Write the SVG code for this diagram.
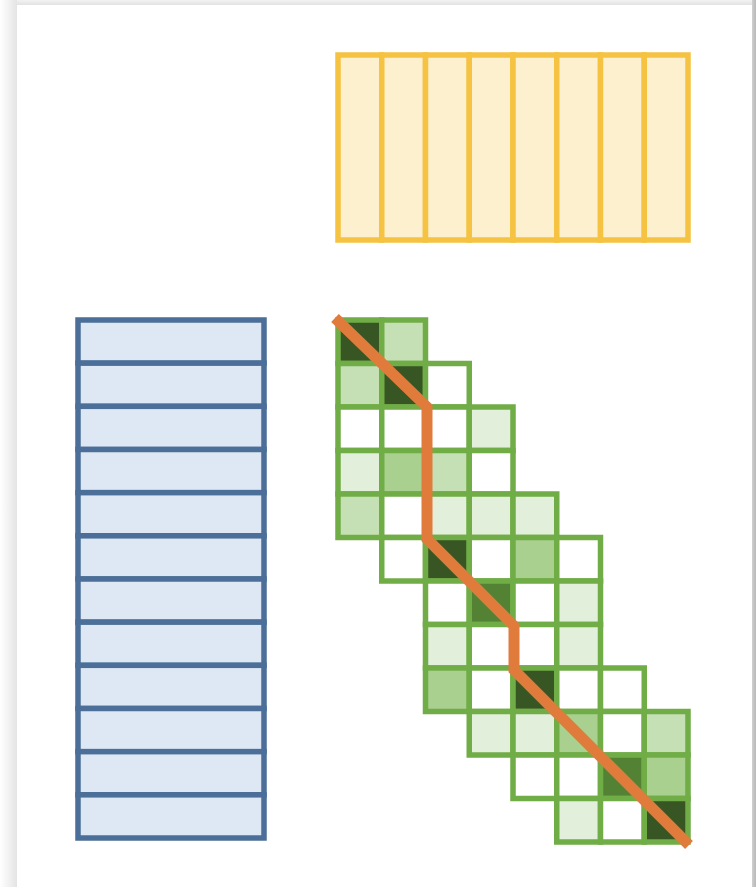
<svg xmlns="http://www.w3.org/2000/svg" width="756" height="887" viewBox="0 0 756 887">
<defs>
<linearGradient id="gl" x1="0" y1="0" x2="1" y2="0"><stop offset="0" stop-color="#ffffff"/><stop offset="1" stop-color="#e4e4e4"/></linearGradient>
<linearGradient id="gt" x1="0" y1="0" x2="0" y2="1"><stop offset="0" stop-color="#f2f2f2"/><stop offset="1" stop-color="#e2e2e2"/></linearGradient>
<linearGradient id="gr" x1="0" y1="0" x2="1" y2="0"><stop offset="0" stop-color="#d0d0d0"/><stop offset="1" stop-color="#b8b8b8"/></linearGradient>
<style>
.y{fill:#fdf0cf;stroke:#f5c242;stroke-width:5.5}
.b{fill:#dee8f4;stroke:#4b6f98;stroke-width:5.5}
.g{stroke:#70ad47;stroke-width:5.5}
.D{fill:#375623}.DM{fill:#548235}.M{fill:#a9d08e}.LM{fill:#c5e0b4}.VL{fill:#e2efda}.W{fill:#ffffff}
</style>
</defs>
<rect x="0" y="0" width="756" height="887" fill="#f4f4f4"/>
<rect x="0" y="0" width="17" height="887" fill="url(#gl)"/>
<rect x="17" y="0" width="735" height="5" fill="url(#gt)"/>
<rect x="752" y="0" width="4" height="887" fill="url(#gr)"/>
<rect x="17" y="5" width="735" height="882" fill="#ffffff"/>

<g id="yellow">
<rect class="y" x="338" y="55" width="43.75" height="185"/>
<rect class="y" x="381.75" y="55" width="43.75" height="185"/>
<rect class="y" x="425.5" y="55" width="43.75" height="185"/>
<rect class="y" x="469.25" y="55" width="43.75" height="185"/>
<rect class="y" x="513" y="55" width="43.75" height="185"/>
<rect class="y" x="556.75" y="55" width="43.75" height="185"/>
<rect class="y" x="600.5" y="55" width="43.75" height="185"/>
<rect class="y" x="644.25" y="55" width="43.75" height="185"/>
</g>

<g id="blue">
<rect class="b" x="78" y="320" width="186" height="43.17"/>
<rect class="b" x="78" y="363.17" width="186" height="43.17"/>
<rect class="b" x="78" y="406.33" width="186" height="43.17"/>
<rect class="b" x="78" y="449.5" width="186" height="43.17"/>
<rect class="b" x="78" y="492.67" width="186" height="43.17"/>
<rect class="b" x="78" y="535.83" width="186" height="43.17"/>
<rect class="b" x="78" y="579" width="186" height="43.17"/>
<rect class="b" x="78" y="622.17" width="186" height="43.17"/>
<rect class="b" x="78" y="665.33" width="186" height="43.17"/>
<rect class="b" x="78" y="708.5" width="186" height="43.17"/>
<rect class="b" x="78" y="751.67" width="186" height="43.17"/>
<rect class="b" x="78" y="794.83" width="186" height="43.17"/>
</g>

<g id="green">
<g class="g">
<rect class="D" x="338" y="320" width="43.75" height="43.5"/>
<rect class="LM" x="381.75" y="320" width="43.75" height="43.5"/>
<rect class="LM" x="338" y="363.5" width="43.75" height="43.5"/>
<rect class="D" x="381.75" y="363.5" width="43.75" height="43.5"/>
<rect class="W" x="425.5" y="363.5" width="43.75" height="43.5"/>
<rect class="W" x="338" y="407" width="43.75" height="43.5"/>
<rect class="W" x="381.75" y="407" width="43.75" height="43.5"/>
<rect class="W" x="425.5" y="407" width="43.75" height="43.5"/>
<rect class="VL" x="469.25" y="407" width="43.75" height="43.5"/>
<rect class="VL" x="338" y="450.5" width="43.75" height="43.5"/>
<rect class="M" x="381.75" y="450.5" width="43.75" height="43.5"/>
<rect class="LM" x="425.5" y="450.5" width="43.75" height="43.5"/>
<rect class="W" x="469.25" y="450.5" width="43.75" height="43.5"/>
<rect class="LM" x="338" y="494" width="43.75" height="43.5"/>
<rect class="W" x="381.75" y="494" width="43.75" height="43.5"/>
<rect class="VL" x="425.5" y="494" width="43.75" height="43.5"/>
<rect class="VL" x="469.25" y="494" width="43.75" height="43.5"/>
<rect class="VL" x="513" y="494" width="43.75" height="43.5"/>
<rect class="W" x="381.75" y="537.5" width="43.75" height="43.5"/>
<rect class="D" x="425.5" y="537.5" width="43.75" height="43.5"/>
<rect class="W" x="469.25" y="537.5" width="43.75" height="43.5"/>
<rect class="M" x="513" y="537.5" width="43.75" height="43.5"/>
<rect class="W" x="556.75" y="537.5" width="43.75" height="43.5"/>
<rect class="W" x="425.5" y="581" width="43.75" height="43.5"/>
<rect class="DM" x="469.25" y="581" width="43.75" height="43.5"/>
<rect class="W" x="513" y="581" width="43.75" height="43.5"/>
<rect class="VL" x="556.75" y="581" width="43.75" height="43.5"/>
<rect class="VL" x="425.5" y="624.5" width="43.75" height="43.5"/>
<rect class="W" x="469.25" y="624.5" width="43.75" height="43.5"/>
<rect class="W" x="513" y="624.5" width="43.75" height="43.5"/>
<rect class="VL" x="556.75" y="624.5" width="43.75" height="43.5"/>
<rect class="M" x="425.5" y="668" width="43.75" height="43.5"/>
<rect class="W" x="469.25" y="668" width="43.75" height="43.5"/>
<rect class="D" x="513" y="668" width="43.75" height="43.5"/>
<rect class="W" x="556.75" y="668" width="43.75" height="43.5"/>
<rect class="W" x="600.5" y="668" width="43.75" height="43.5"/>
<rect class="VL" x="469.25" y="711.5" width="43.75" height="43.5"/>
<rect class="VL" x="513" y="711.5" width="43.75" height="43.5"/>
<rect class="M" x="556.75" y="711.5" width="43.75" height="43.5"/>
<rect class="W" x="600.5" y="711.5" width="43.75" height="43.5"/>
<rect class="LM" x="644.25" y="711.5" width="43.75" height="43.5"/>
<rect class="W" x="513" y="755" width="43.75" height="43.5"/>
<rect class="W" x="556.75" y="755" width="43.75" height="43.5"/>
<rect class="DM" x="600.5" y="755" width="43.75" height="43.5"/>
<rect class="M" x="644.25" y="755" width="43.75" height="43.5"/>
<rect class="VL" x="556.75" y="798.5" width="43.75" height="43.5"/>
<rect class="W" x="600.5" y="798.5" width="43.75" height="43.5"/>
<rect class="D" x="644.25" y="798.5" width="43.75" height="43.5"/>
</g>
</g>

<g id="connectors">
<polyline points="335,318 427,407 427,539 514,626 514,670 689,845" fill="none" stroke="#e07b3c" stroke-width="11" stroke-linejoin="miter"/>
</g>
</svg>
